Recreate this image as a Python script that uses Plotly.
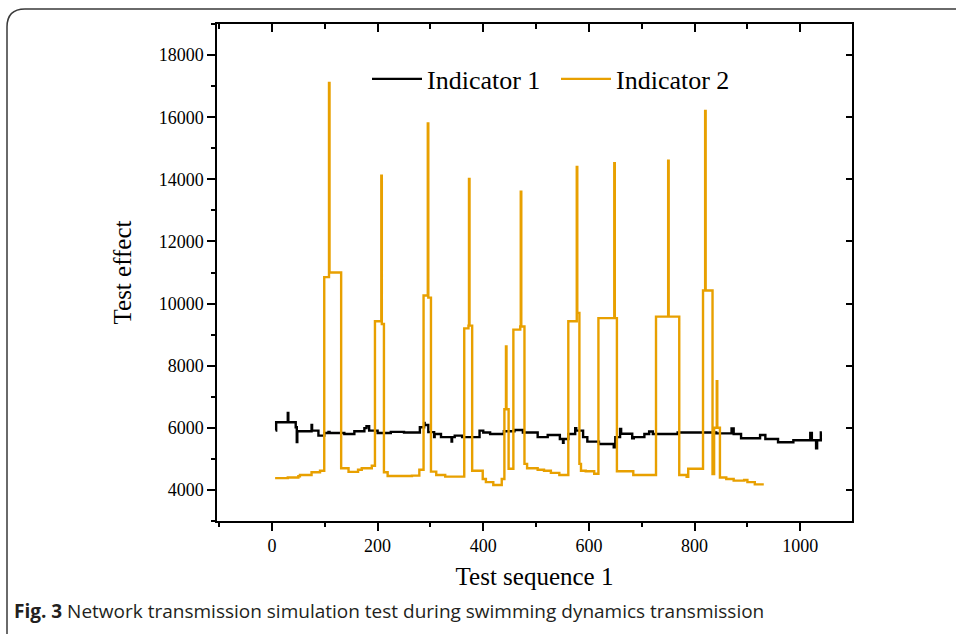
import plotly.graph_objects as go

# ---------------- data ----------------
ind1_x = [7, 8, 30, 31, 45, 47, 48, 75, 76, 88, 99, 107, 109, 137, 156, 175, 179, 184,
          200, 225, 250, 280, 288, 289, 296, 307, 308, 320, 340, 341, 346, 360, 393, 400,
          413, 439, 459, 475, 503, 522, 545, 551, 552, 561, 574, 576, 589, 597, 619, 647,
          650, 659, 661, 682, 685, 705, 714, 721, 768, 841, 870, 874, 888, 924, 934, 958,
          987, 1019, 1022, 1030, 1032, 1039, 1041]
ind1_y = [5910, 6180, 6480, 6180, 6020, 5540, 5890, 6090, 5910, 5750, 5835, 5870, 5835,
          5800, 5890, 5990, 6050, 5910, 5835, 5870, 5850, 6020, 6160, 6090, 5860, 5700,
          5800, 5700, 5560, 5700, 5750, 5700, 5910, 5850, 5800, 5890, 5930, 5850, 5700,
          5770, 5640, 5520, 5640, 5800, 5990, 5910, 5700, 5555, 5480, 5375, 5700, 5960,
          5810, 5660, 5700, 5800, 5880, 5800, 5850, 5820, 5980, 5800, 5664, 5770, 5640,
          5535, 5600, 5835, 5600, 5340, 5600, 5850, 5850]

ind2_x = [6, 30, 50, 53, 75, 91, 99, 108, 109, 131, 145, 163, 170, 189, 195, 207, 208,
          212, 219, 265, 279, 287, 295, 296, 301, 311, 328, 364, 372, 373, 374, 379, 399,
          405, 419, 435, 440, 443, 444, 448, 457, 470, 471, 472, 478, 483, 503, 515, 528,
          544, 561, 577, 578, 582, 585, 594, 610, 618, 648, 649, 653, 684, 727, 750, 751,
          771, 785, 788, 816, 820, 821, 834, 837, 842, 843, 848, 860, 874, 894, 900, 914, 931]
ind2_y = [4380, 4400, 4440, 4480, 4570, 4620, 10850, 17100, 11000, 4700, 4580, 4650, 4700,
          4780, 9430, 14120, 9340, 4570, 4450, 4460, 4650, 10260, 15800, 10190, 4590, 4480,
          4430, 9200, 9290, 14010, 9290, 4620, 4350, 4250, 4160, 4350, 6600, 8620, 6600,
          4680, 9160, 9260, 13600, 9260, 4840, 4700, 4650, 4620, 4550, 4480, 9430, 14400,
          9700, 4840, 4620, 4600, 4520, 9530, 14520, 9530, 4600, 4480, 9580, 14600, 9580,
          4480, 4420, 4680, 10420, 16200, 10420, 4510, 6000, 7500, 6000, 4400, 4350, 4300,
          4320, 4250, 4180, 4180]

series_names = ["Indicator 1", "Indicator 2"]
x_title = "Test sequence 1"
y_title = "Test effect"
caption_bold = "Fig. 3"
caption_text = "Network transmission simulation test during swimming dynamics transmission"
x_tickvals = [0, 200, 400, 600, 800, 1000]
y_tickvals = [4000, 6000, 8000, 10000, 12000, 14000, 16000, 18000]
x_range = [-104, 1098]
y_range = [3000, 19000]

# ---------------- figure ----------------
W, H = 956, 634
L, R, T, B = 217, 852, 24, 521  # plot area in pixels


def px(p):
    return (p - L) / (R - L)


def py(q):
    return (B - q) / (B - T)


serif = "Liberation Serif, Times New Roman, serif"

fig = go.Figure()
fig.add_trace(go.Scatter(x=ind1_x, y=ind1_y, name=series_names[0], mode="lines",
                         line=dict(color="#000000", width=2.4, shape="hv")))
fig.add_trace(go.Scatter(x=ind2_x, y=ind2_y, name=series_names[1], mode="lines",
                         line=dict(color="#E8A000", width=2.4, shape="hv")))
# empty trace so the mirrored top/right axes are drawn
fig.add_trace(go.Scatter(x=[], y=[], xaxis="x2", yaxis="y2", showlegend=False,
                         hoverinfo="skip"))

tickfont = dict(family=serif, size=18, color="black")
axis_common = dict(showgrid=False, zeroline=False, showline=True, linecolor="black",
                   linewidth=1.5, tickcolor="black", tickwidth=1.5)

fig.update_layout(
    width=W, height=H,
    margin=dict(l=L, r=W - R, t=T, b=H - B, autoexpand=False),
    paper_bgcolor="white", plot_bgcolor="white",
    xaxis=dict(range=x_range, tickvals=x_tickvals, tickformat="d", ticks="outside",
               ticklen=8, tickfont=tickfont,
               minor=dict(dtick=100, tick0=0, ticks="outside", ticklen=4,
                          tickcolor="black", tickwidth=1.5),
               title=dict(text=x_title, font=dict(family=serif, size=25, color="black"),
                          standoff=12),
               **axis_common),
    yaxis=dict(range=y_range, tickvals=y_tickvals, tickformat="d", ticks="outside",
               ticklen=8, tickfont=tickfont,
               minor=dict(dtick=1000, tick0=0, ticks="outside", ticklen=4,
                          tickcolor="black", tickwidth=1.5),
               title=dict(text=y_title, font=dict(family=serif, size=25, color="black"),
                          standoff=20),
               **axis_common),
    xaxis2=dict(range=x_range, overlaying="x", side="top", anchor="y", tickvals=x_tickvals,
                ticks="inside", ticklen=8, showticklabels=False,
                minor=dict(dtick=100, tick0=0, ticks="inside", ticklen=5,
                           tickcolor="black", tickwidth=1.5),
                **axis_common),
    yaxis2=dict(range=y_range, overlaying="y", side="right", anchor="x", tickvals=y_tickvals,
                ticks="inside", ticklen=6, showticklabels=False,
                **axis_common),
    legend=dict(orientation="h", x=px(367), y=py(79), xanchor="left", yanchor="middle",
                bgcolor="rgba(0,0,0,0)", font=dict(family=serif, size=26, color="black"),
                itemwidth=50, tracegroupgap=0, entrywidth=124, entrywidthmode="pixels"),
    showlegend=True,
)

# figure frame with rounded top-left corner
x0, y0, rad = 7, 9, 18
path = (f"M {px(x0)},{py(H + 5)} L {px(x0)},{py(y0 + rad)} "
        f"Q {px(x0)},{py(y0)} {px(x0 + rad)},{py(y0)} L {px(W + 5)},{py(y0)}")
fig.add_shape(type="path", path=path, xref="paper", yref="paper",
              line=dict(color="#3a3a3a", width=1.5), layer="above")

fig.add_annotation(xref="paper", yref="paper", x=px(12), y=py(611), xanchor="left",
                   yanchor="middle", showarrow=False,
                   text=f"<b>{caption_bold}</b> {caption_text}",
                   font=dict(family="Open Sans", size=19, color="#231F20"))

fig.write_html("out.html", config={"displayModeBar": False},
               post_script="document.body.style.margin='0px';")
